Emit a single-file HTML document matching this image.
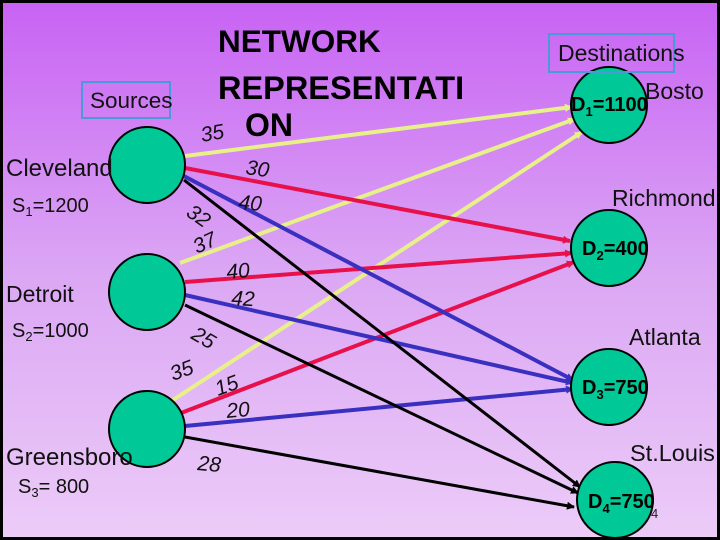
<!DOCTYPE html>
<html><head><meta charset="utf-8"><style>
html,body{margin:0;padding:0}
body{width:720px;height:540px;overflow:hidden}
svg{display:block}
text{font-family:"Liberation Sans",sans-serif}
.w{font-style:italic;font-size:21px;fill:#111}
</style></head><body>
<svg width="720" height="540" viewBox="0 0 720 540" xmlns="http://www.w3.org/2000/svg">
<defs>
<linearGradient id="bg" x1="0" y1="0" x2="0" y2="1">
<stop offset="0" stop-color="#c862f4"/>
<stop offset="0.5" stop-color="#dba6f4"/>
<stop offset="1" stop-color="#ecccf8"/>
</linearGradient>
<marker id="ay" markerWidth="8" markerHeight="8" refX="7" refY="4" orient="auto" markerUnits="userSpaceOnUse"><path d="M0,0 L8,4 L0,8z" fill="#e8f08a"/></marker>
<marker id="ar" markerWidth="8" markerHeight="8" refX="7" refY="4" orient="auto" markerUnits="userSpaceOnUse"><path d="M0,0 L8,4 L0,8z" fill="#e8104a"/></marker>
<marker id="ab" markerWidth="8" markerHeight="8" refX="7" refY="4" orient="auto" markerUnits="userSpaceOnUse"><path d="M0,0 L8,4 L0,8z" fill="#3a30c0"/></marker>
<marker id="ak" markerWidth="8" markerHeight="8" refX="7" refY="4" orient="auto" markerUnits="userSpaceOnUse"><path d="M0,0 L8,4 L0,8z" fill="#000"/></marker>
</defs>
<rect width="720" height="540" fill="url(#bg)"/>
<rect x="1.5" y="1.5" width="717" height="537" fill="none" stroke="#000" stroke-width="3"/>

<g stroke-width="4" fill="none">
<line x1="185" y1="156" x2="572" y2="107" stroke="#e8f08a" marker-end="url(#ay)"/>
<line x1="180" y1="263" x2="575" y2="119" stroke="#e8f08a" marker-end="url(#ay)"/>
<line x1="173" y1="400" x2="582" y2="132" stroke="#e8f08a" marker-end="url(#ay)"/>
<line x1="185" y1="168" x2="570" y2="241" stroke="#e8104a" marker-end="url(#ar)"/>
<line x1="185" y1="282" x2="572" y2="253" stroke="#e8104a" marker-end="url(#ar)"/>
<line x1="181" y1="413" x2="574" y2="262" stroke="#e8104a" marker-end="url(#ar)"/>
<line x1="180" y1="174" x2="573" y2="380" stroke="#3a30c0" marker-end="url(#ab)"/>
<line x1="185" y1="295" x2="573" y2="383" stroke="#3a30c0" marker-end="url(#ab)"/>
<line x1="185" y1="426" x2="573" y2="389" stroke="#3a30c0" marker-end="url(#ab)"/>
<line x1="184" y1="180" x2="580" y2="487" stroke="#000" stroke-width="3" marker-end="url(#ak)"/>
<line x1="185" y1="305" x2="578" y2="493" stroke="#000" stroke-width="3" marker-end="url(#ak)"/>
<line x1="185" y1="437" x2="574" y2="507" stroke="#000" stroke-width="3" marker-end="url(#ak)"/>
</g>

<g fill="#00c896" stroke="#000" stroke-width="2">
<circle cx="147" cy="165" r="38"/>
<circle cx="147" cy="292" r="38"/>
<circle cx="147" cy="429" r="38"/>
<circle cx="609" cy="105" r="38"/>
<circle cx="609" cy="248" r="38"/>
<circle cx="609" cy="387" r="38"/>
<circle cx="615" cy="500" r="38"/>
</g>

<text x="218" y="52" font-size="31.5" font-weight="bold">NETWORK</text>
<text x="218" y="99" font-size="32.5" font-weight="bold">REPRESENTATI</text>
<text x="245" y="136" font-size="32" font-weight="bold">ON</text>

<rect x="82" y="82" width="88" height="36" fill="none" stroke="#4a9ad8" stroke-width="2"/>
<text x="90" y="108" font-size="22.5" fill="#111">Sources</text>
<rect x="549" y="34" width="125" height="38" fill="none" stroke="#4a9ad8" stroke-width="2"/>
<text x="558" y="61" font-size="23" fill="#111">Destinations</text>

<text x="6" y="176" font-size="24" fill="#111">Cleveland</text>
<text x="12" y="212" font-size="20" fill="#111">S<tspan font-size="13" dy="4">1</tspan><tspan dy="-4">=1200</tspan></text>
<text x="6" y="302" font-size="23" fill="#111">Detroit</text>
<text x="12" y="337" font-size="20" fill="#111">S<tspan font-size="13" dy="4">2</tspan><tspan dy="-4">=1000</tspan></text>
<text x="6" y="465" font-size="24" fill="#111">Greensboro</text>
<text x="18" y="493" font-size="20" fill="#111">S<tspan font-size="13" dy="4">3</tspan><tspan dy="-4">= 800</tspan></text>

<text x="645" y="99" font-size="23" fill="#111">Bosto</text>
<text x="612" y="206" font-size="23" fill="#111">Richmond</text>
<text x="629" y="345" font-size="23" fill="#111">Atlanta</text>
<text x="630" y="461" font-size="23.5" fill="#111">St.Louis</text>

<g font-size="20" font-weight="bold" fill="#000">
<text x="571" y="111">D<tspan font-size="13" dy="5">1</tspan><tspan dy="-5">=1100</tspan></text>
<text x="582" y="255">D<tspan font-size="13" dy="5">2</tspan><tspan dy="-5">=400</tspan></text>
<text x="582" y="394">D<tspan font-size="13" dy="5">3</tspan><tspan dy="-5">=750</tspan></text>
<text x="588" y="508">D<tspan font-size="13" dy="5">4</tspan><tspan dy="-5">=750</tspan></text>
</g>
<text x="651" y="518" font-size="13" fill="#222" font-family="Liberation Serif">4</text>

<text class="w" x="202" y="142" transform="rotate(-10 202 142)">35</text>
<text class="w" x="245" y="174" transform="rotate(8 245 174)">30</text>
<text class="w" x="238" y="209" transform="rotate(5 238 209)">40</text>
<text class="w" x="185" y="215" transform="rotate(35 185 215)">32</text>
<text class="w" x="197" y="254" transform="rotate(-25 197 254)">37</text>
<text class="w" x="227" y="279" transform="rotate(-5 227 279)">40</text>
<text class="w" x="231" y="305" transform="rotate(3 231 305)">42</text>
<text class="w" x="190" y="338" transform="rotate(30 190 338)">25</text>
<text class="w" x="173" y="381" transform="rotate(-20 173 381)">35</text>
<text class="w" x="218" y="396" transform="rotate(-20 218 396)">15</text>
<text class="w" x="227" y="418" transform="rotate(-5 227 418)">20</text>
<text class="w" x="197" y="470" transform="rotate(5 197 470)">28</text>
</svg>
</body></html>
